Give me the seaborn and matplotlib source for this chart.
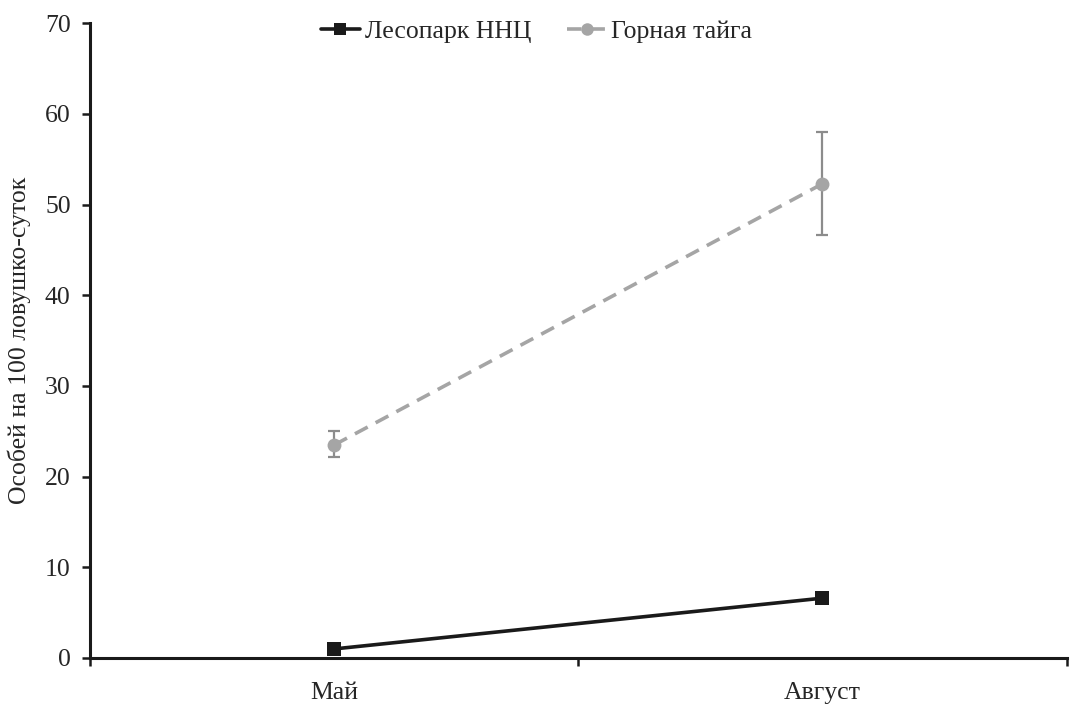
import matplotlib
matplotlib.use("Agg")
import matplotlib.pyplot as plt
import seaborn as sns
import pandas as pd
import numpy as np
from matplotlib.lines import Line2D

months = ["Май", "Август"]
series_names = ["Лесопарк ННЦ", "Горная тайга"]
forest_park = [1.0, 6.6]
mountain_taiga = [23.5, 52.3]
taiga_err_low = [22.2, 46.7]
taiga_err_high = [25.0, 58.0]
y_ticks = [0, 10, 20, 30, 40, 50, 60, 70]

sns.set_theme(style="ticks")
plt.rcParams["font.family"] = ["Liberation Serif", "DejaVu Serif"]

df = pd.DataFrame({
    "month": months * 2,
    "value": forest_park + mountain_taiga,
    "site": [series_names[0]] * 2 + [series_names[1]] * 2,
})

fig = plt.figure(figsize=(10.73, 7.06), dpi=100)
ax = fig.add_axes([0.084, 0.068, 0.910, 0.899])

black = "#1a1a1a"
gray = "#a5a5a5"
text_color = "#262626"
fs = 18.5

# error bars for the taiga series (drawn under the line)
x_pos = np.arange(len(months))
lower = np.array(mountain_taiga) - np.array(taiga_err_low)
upper = np.array(taiga_err_high) - np.array(mountain_taiga)
ax.errorbar(x_pos, mountain_taiga, yerr=[lower, upper], fmt="none",
            ecolor="#8c8c8c", elinewidth=1.6, capsize=4, capthick=1.6, zorder=2)

sns.lineplot(data=df, x="month", y="value", hue="site", style="site",
             palette={series_names[0]: black, series_names[1]: gray},
             markers={series_names[0]: "s", series_names[1]: "o"},
             dashes={series_names[0]: "", series_names[1]: (4, 2.5)},
             markersize=10, linewidth=2.6, markeredgewidth=0,
             sort=False, ax=ax, legend=False, zorder=3)

ax.set_xlim(-0.5, 1.5)
ax.set_ylim(0, 70)
ax.set_yticks(y_ticks)
ax.set_yticklabels([str(t) for t in y_ticks])
ax.set_xticks(x_pos)
ax.set_xticklabels(months)
ax.set_xticks([-0.5, 0.5, 1.5], minor=True)
ax.tick_params(axis="x", which="major", length=0, pad=17, labelsize=fs, colors=text_color)
ax.tick_params(axis="x", which="minor", length=6, width=1.8, direction="out", color=black)
ax.tick_params(axis="y", which="major", length=6, width=1.8, direction="out",
               color=black, labelsize=fs, pad=8, labelcolor=text_color)

ax.set_xlabel("")
ax.set_ylabel("Особей на 100 ловушко-суток", fontsize=fs, color=text_color, labelpad=10)

for side in ["top", "right"]:
    ax.spines[side].set_visible(False)
for side in ["left", "bottom"]:
    ax.spines[side].set_linewidth(2.2)
    ax.spines[side].set_color(black)

handles = [
    Line2D([], [], color=black, marker="s", markersize=9, linewidth=2.6, markeredgewidth=0),
    Line2D([], [], color=gray, marker="o", markersize=9, linewidth=2.6,
           linestyle=(0, (4, 2.5)), markeredgewidth=0),
]
fig.legend(handles, series_names, loc="upper center", bbox_to_anchor=(0.5, 1.005),
           ncol=2, frameon=False, fontsize=fs, handlelength=1.5, handletextpad=0.2,
           columnspacing=1.4, labelcolor=text_color)

fig.savefig("out.png", dpi=100)
